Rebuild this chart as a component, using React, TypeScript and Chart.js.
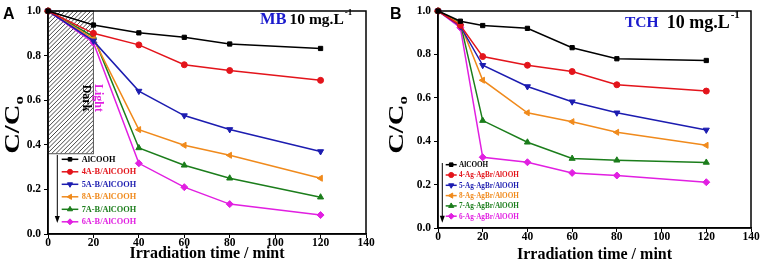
import React, { useEffect, useRef } from 'react';
import { Chart, registerables } from 'chart.js';
import { drawPoint } from 'chart.js/helpers';

Chart.register(...registerables);

// ---------- DATA ----------
const timesMB = [0, 20, 40, 60, 80, 120];
const mbAlOOH = [1.0, 0.937, 0.902, 0.882, 0.852, 0.832];
const mb4A = [1.0, 0.9, 0.848, 0.759, 0.733, 0.689];
const mb5A = [1.0, 0.866, 0.641, 0.531, 0.469, 0.37];
const mb8A = [1.0, 0.875, 0.468, 0.398, 0.353, 0.25];
const mb7A = [1.0, 0.885, 0.386, 0.308, 0.25, 0.165];
const mb6A = [1.0, 0.858, 0.317, 0.21, 0.134, 0.085];
const labelsMB = ['AlCOOH', '4A-B/AlCOOH', '5A-B/AlCOOH', '8A-B/AlCOOH', '7A-B/AlCOOH', '6A-B/AlCOOH'];

const timesTCH = [0, 10, 20, 40, 60, 80, 120];
const tchAlOOH = [1.0, 0.953, 0.933, 0.92, 0.831, 0.78, 0.772];
const tch4 = [1.0, 0.934, 0.79, 0.75, 0.721, 0.66, 0.631];
const tch5 = [1.0, 0.93, 0.75, 0.652, 0.582, 0.531, 0.452];
const tch8 = [1.0, 0.94, 0.681, 0.531, 0.49, 0.441, 0.381];
const tch7 = [1.0, 0.945, 0.495, 0.395, 0.32, 0.312, 0.302];
const tch6 = [1.0, 0.923, 0.326, 0.303, 0.254, 0.242, 0.211];
const labelsTCH = ['AlCOOH', '4-Ag-AgBr/AlOOH', '5-Ag-AgBr/AlOOH', '8-Ag-AgBr/AlOOH', '7-Ag-AgBr/AlOOH', '6-Ag-AgBr/AlOOH'];

const xTickStep = 20;
const yTickStep = 0.2;
const hatchX = [0, 20];
const hatchY = [0.36, 1.0];

// ---------- STYLES ----------
const SERIF = "'Liberation Serif', 'Times New Roman', serif";
const SANS = "'Liberation Sans', Arial, sans-serif";
const STYLES = [
  { color: '#000000', pointStyle: 'rect', rotation: 0, radius: 3 },
  { color: '#e3141b', pointStyle: 'circle', rotation: 0, radius: 3 },
  { color: '#1c1cb0', pointStyle: 'triangle', rotation: 180, radius: 3.5 },
  { color: '#f08a1c', pointStyle: 'triangle', rotation: 270, radius: 3.5 },
  { color: '#1b7d1b', pointStyle: 'triangle', rotation: 0, radius: 3.5 },
  { color: '#e11fe1', pointStyle: 'rectRot', rotation: 0, radius: 3.5 },
];
const TITLE_BLUE = '#1a1acd';

type Panel = {
  width: number;
  height: number;
  yAxisWidth: number;
  padRight: number;
  padTop: number;
  xAxisHeight: number;
  titleBottomPad: number;
  times: number[];
  series: number[][];
  labels: string[];
  legend: { x1: number; x2: number; tx: number; y0: number; dy: number; font: number };
  arrow: { x: number; y1: number; y2: number };
  letter: { text: string; x: number; y: number };
  title: { name: string; nameSize: number; nx: number; ny: number; cx: number; cy: number; cSize: number; supSize: number; supDy: number };
  ylabel: { cx: number; cy: number };
  hatch: boolean;
};

function buildChart(canvas: HTMLCanvasElement, p: Panel) {
  const decor = {
    id: 'decor',
    beforeDatasetsDraw(chart: any) {
      if (!p.hatch) return;
      const { ctx, scales } = chart;
      const x1 = scales.x.getPixelForValue(hatchX[0]);
      const x2 = scales.x.getPixelForValue(hatchX[1]);
      const y1 = scales.y.getPixelForValue(hatchY[1]);
      const y2 = scales.y.getPixelForValue(hatchY[0]);
      ctx.save();
      ctx.beginPath();
      ctx.rect(x1, y1, x2 - x1, y2 - y1);
      ctx.clip();
      ctx.strokeStyle = '#333';
      ctx.lineWidth = 0.9;
      const h = y2 - y1;
      for (let x = x1 - h; x < x2 + h; x += 4.3) {
        ctx.beginPath();
        ctx.moveTo(x, y2);
        ctx.lineTo(x + h, y1);
        ctx.stroke();
      }
      ctx.restore();
      ctx.save();
      ctx.strokeStyle = '#555';
      ctx.lineWidth = 1;
      ctx.strokeRect(x1, y1, x2 - x1, y2 - y1);
      // Dark / Light
      ctx.font = `bold 12px ${SERIF}`;
      ctx.textAlign = 'center';
      ctx.textBaseline = 'middle';
      const cy = 98;
      ctx.save();
      ctx.translate(x2 - 7, cy);
      ctx.rotate(Math.PI / 2);
      ctx.fillStyle = '#000';
      ctx.fillText('Dark', 0, 0);
      ctx.restore();
      ctx.save();
      ctx.translate(x2 + 4.5, cy);
      ctx.rotate(Math.PI / 2);
      ctx.fillStyle = '#e11fe1';
      ctx.fillText('Light', 0, 0);
      ctx.restore();
      ctx.restore();
    },
    afterDraw(chart: any) {
      const { ctx, chartArea } = chart;
      ctx.save();
      // frame
      ctx.strokeStyle = '#000';
      ctx.lineWidth = 1.5;
      ctx.strokeRect(chartArea.left, chartArea.top, chartArea.right - chartArea.left, chartArea.bottom - chartArea.top);

      // legend
      const L = p.legend;
      ctx.font = `bold ${L.font}px ${SERIF}`;
      ctx.textAlign = 'left';
      ctx.textBaseline = 'middle';
      p.labels.forEach((lab, i) => {
        const st = STYLES[i];
        const y = L.y0 + i * L.dy;
        ctx.strokeStyle = st.color;
        ctx.fillStyle = st.color;
        ctx.lineWidth = 1.5;
        ctx.beginPath();
        ctx.moveTo(L.x1, y);
        ctx.lineTo(L.x2, y);
        ctx.stroke();
        ctx.lineWidth = 1;
        drawPoint(ctx, { pointStyle: st.pointStyle as any, rotation: st.rotation, radius: st.radius * 0.85, borderWidth: 1 }, (L.x1 + L.x2) / 2, y);
        ctx.fillStyle = st.color;
        ctx.fillText(lab, L.tx, y + 0.5);
      });

      // arrow
      const A = p.arrow;
      ctx.strokeStyle = '#000';
      ctx.fillStyle = '#000';
      ctx.lineWidth = 1;
      ctx.beginPath();
      ctx.moveTo(A.x, A.y1);
      ctx.lineTo(A.x, A.y2 - 5);
      ctx.stroke();
      ctx.beginPath();
      ctx.moveTo(A.x - 2.5, A.y2 - 7);
      ctx.lineTo(A.x + 2.5, A.y2 - 7);
      ctx.lineTo(A.x, A.y2);
      ctx.closePath();
      ctx.fill();

      // panel letter
      ctx.font = `bold 16px ${SANS}`;
      ctx.textBaseline = 'alphabetic';
      ctx.fillStyle = '#000';
      ctx.fillText(p.letter.text, p.letter.x, p.letter.y);

      // title
      const T = p.title;
      ctx.font = `bold ${T.nameSize}px ${SERIF}`;
      ctx.fillStyle = TITLE_BLUE;
      ctx.fillText(T.name, T.nx, T.ny);
      ctx.font = `bold ${T.cSize}px ${SERIF}`;
      ctx.fillStyle = '#000';
      const conc = '10 mg.L';
      ctx.fillText(conc, T.cx, T.cy);
      const w = ctx.measureText(conc).width;
      ctx.font = `bold ${T.supSize}px ${SERIF}`;
      ctx.fillText('-1', T.cx + w + 1, T.cy - T.supDy);

      // y axis label C/Co
      ctx.save();
      ctx.translate(p.ylabel.cx, p.ylabel.cy);
      ctx.rotate(-Math.PI / 2);
      ctx.scale(1.3, 1);
      ctx.font = `bold 22px ${SERIF}`;
      const wm = ctx.measureText('C/C').width;
      ctx.font = `bold 13px ${SERIF}`;
      const ws = ctx.measureText('o').width;
      const start = -(wm + ws) / 2;
      ctx.font = `bold 22px ${SERIF}`;
      ctx.fillText('C/C', start, 7.5);
      ctx.font = `bold 13px ${SERIF}`;
      ctx.fillText('o', start + wm, 11.5);
      ctx.restore();

      ctx.restore();
    },
  };

  const tickFont = { family: SERIF, weight: 'bold' as const, size: 11.5 };
  const gridOpts = { display: true, drawOnChartArea: false, drawTicks: true, tickLength: 4, color: '#000', lineWidth: 1 };
  const borderOpts = { display: true, color: '#000', width: 1.5 };

  return new Chart(canvas, {
    type: 'line',
    data: {
      datasets: p.series.map((vals, i) => ({
        label: p.labels[i],
        data: p.times.map((t, j) => ({ x: t, y: vals[j] })),
        borderColor: STYLES[i].color,
        backgroundColor: STYLES[i].color,
        pointBackgroundColor: STYLES[i].color,
        pointBorderColor: STYLES[i].color,
        pointStyle: STYLES[i].pointStyle as any,
        pointRotation: STYLES[i].rotation,
        pointRadius: STYLES[i].radius,
        pointBorderWidth: 1,
        borderWidth: 1.5,
        tension: 0,
        clip: false as any,
      })),
    },
    options: {
      responsive: false,
      devicePixelRatio: 1,
      animation: false,
      layout: { padding: { left: 0, right: p.padRight, top: p.padTop, bottom: 0 } },
      plugins: { legend: { display: false }, tooltip: { enabled: false } },
      scales: {
        x: {
          type: 'linear',
          min: 0,
          max: 140,
          ticks: { stepSize: xTickStep, font: tickFont, color: '#000', padding: -2, maxRotation: 0, autoSkip: false },
          grid: gridOpts,
          border: borderOpts,
          title: { display: true, text: 'Irradiation time / mint', color: '#000', font: { family: SERIF, weight: 'bold', size: 16 }, padding: { top: 0, bottom: p.titleBottomPad } },
          afterFit: (s: any) => { s.height = p.xAxisHeight; },
        },
        y: {
          type: 'linear',
          min: 0,
          max: 1,
          ticks: { stepSize: yTickStep, font: tickFont, color: '#000', padding: 3, callback: (v: any) => Number(v).toFixed(1) },
          grid: gridOpts,
          border: borderOpts,
          afterFit: (s: any) => { s.width = p.yAxisWidth; },
        },
      },
    },
    plugins: [decor],
  } as any);
}

const panelA: Panel = {
  width: 383,
  height: 273,
  yAxisWidth: 48,
  padRight: 17,
  padTop: 11,
  xAxisHeight: 39,
  titleBottomPad: 10,
  times: timesMB,
  series: [mbAlOOH, mb4A, mb5A, mb8A, mb7A, mb6A],
  labels: labelsMB,
  legend: { x1: 61.7, x2: 78.3, tx: 81.7, y0: 159.3, dy: 12.5, font: 8.3 },
  arrow: { x: 57.3, y1: 155, y2: 223 },
  letter: { text: 'A', x: 3, y: 18.5 },
  title: { name: 'MB', nameSize: 16.5, nx: 260, ny: 23.5, cx: 289.5, cy: 23.5, cSize: 15.5, supSize: 9, supDy: 9 },
  ylabel: { cx: 11, cy: 125 },
  hatch: true,
};

const panelB: Panel = {
  width: 382,
  height: 273,
  yAxisWidth: 55,
  padRight: 14,
  padTop: 11,
  xAxisHeight: 45,
  titleBottomPad: 8.5,
  times: timesTCH,
  series: [tchAlOOH, tch4, tch5, tch8, tch7, tch6],
  labels: labelsTCH,
  legend: { x1: 62.7, x2: 73.7, tx: 76, y0: 164.7, dy: 10.3, font: 7.2 },
  arrow: { x: 59.3, y1: 163, y2: 222.7 },
  letter: { text: 'B', x: 7, y: 18.5 },
  title: { name: 'TCH', nameSize: 15.5, nx: 242, ny: 27, cx: 283.7, cy: 28.3, cSize: 18, supSize: 11, supDy: 10.5 },
  ylabel: { cx: 12, cy: 125 },
  hatch: false,
};

function PanelChart({ panel, left }: { panel: Panel; left: number }) {
  const ref = useRef<HTMLCanvasElement | null>(null);
  useEffect(() => {
    if (!ref.current) return;
    const chart = buildChart(ref.current, panel);
    return () => chart.destroy();
  }, [panel]);
  return (
    <canvas
      ref={ref}
      width={panel.width}
      height={panel.height}
      style={{ position: 'absolute', left, top: 0, width: panel.width, height: panel.height }}
    />
  );
}

export default function App() {
  return (
    <div style={{ position: 'fixed', left: 0, top: 0, width: 765, height: 273, background: '#fff', overflow: 'hidden' }}>
      <PanelChart panel={panelA} left={0} />
      <PanelChart panel={panelB} left={383} />
    </div>
  );
}
